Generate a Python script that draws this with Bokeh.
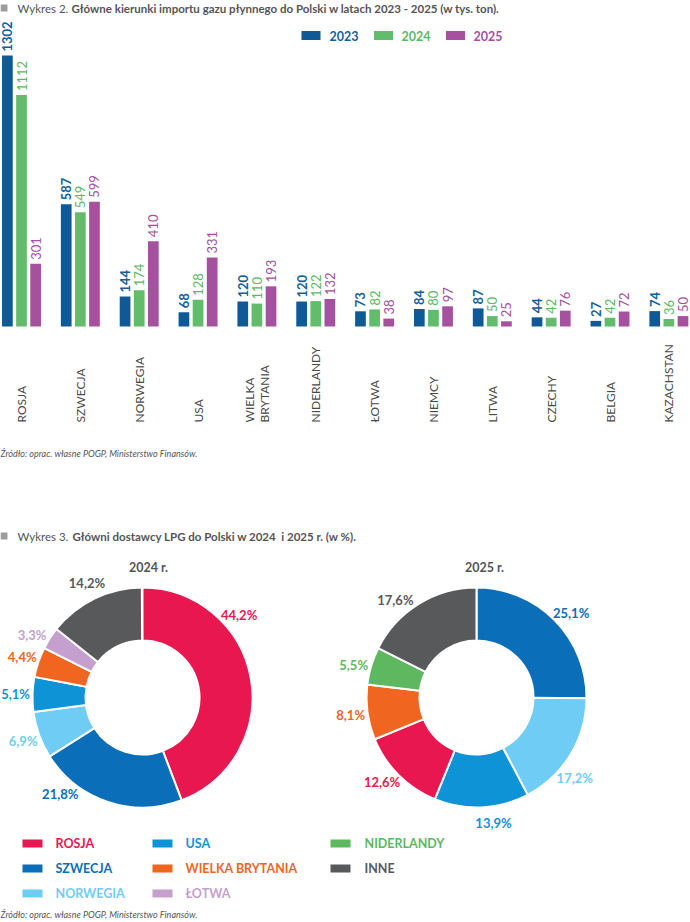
import numpy as np
from bokeh.plotting import figure
from bokeh.models import Range1d, ColumnDataSource
from bokeh.layouts import column
from bokeh.embed import file_html
from bokeh.resources import INLINE
from bokeh.core.properties import value

# ---------------- data ----------------
countries = ["ROSJA", "SZWECJA", "NORWEGIA", "USA", "WIELKA\nBRYTANIA", "NIDERLANDY",
             "ŁOTWA", "NIEMCY", "LITWA", "CZECHY", "BELGIA", "KAZACHSTAN"]
years = ["2023", "2024", "2025"]
v2023 = [1302, 587, 144, 68, 120, 120, 73, 84, 87, 44, 27, 74]
v2024 = [1112, 549, 174, 128, 110, 122, 82, 80, 50, 42, 42, 36]
v2025 = [301, 599, 410, 331, 193, 132, 38, 97, 25, 76, 72, 50]

pie_2024_labels = ["ROSJA", "SZWECJA", "NORWEGIA", "USA", "WIELKA BRYTANIA", "ŁOTWA", "INNE"]
pie_2024 = [44.2, 21.8, 6.9, 5.1, 4.4, 3.3, 14.2]
pie_2025_labels = ["SZWECJA", "NORWEGIA", "USA", "ROSJA", "WIELKA BRYTANIA", "NIDERLANDY", "INNE"]
pie_2025 = [25.1, 17.2, 13.9, 12.6, 8.1, 5.5, 17.6]
legend_cols = [["ROSJA", "SZWECJA", "NORWEGIA"],
               ["USA", "WIELKA BRYTANIA", "ŁOTWA"],
               ["NIDERLANDY", "INNE"]]

title1_a = "Wykres 2. "
title1_b = "Główne kierunki importu gazu płynnego do Polski w latach 2023 - 2025 (w tys. ton)."
title2_a = "Wykres 3. "
title2_b = "Główni dostawcy LPG do Polski w 2024\u00a0 i 2025 r. (w %)."
source_txt = "Źródło: oprac. własne POGP, Ministerstwo Finansów."
pie_titles = ["2024 r.", "2025 r."]

# ---------------- styles ----------------
FONT = value("Lato")
bar_colors = ["#0f5a96", "#63bc6b", "#a6519f"]
bar_text_colors = ["#15609a", "#5cb862", "#a4509e"]
bar_text_styles = ["bold", "normal", "normal"]
slice_colors = {"ROSJA": "#e9174f", "SZWECJA": "#0b6eb8", "NORWEGIA": "#6fcdf5",
                "USA": "#0f93d7", "WIELKA BRYTANIA": "#f0651f", "ŁOTWA": "#c59fce",
                "NIDERLANDY": "#5db860", "INNE": "#58595b"}
GRAY = "#555555"

W = 690
H1 = 470
H2 = 922 - H1

# bar chart geometry (pixels)
PX_GROUP = 58.85
FIRST_GROUP = 21.0
BASE = 326.0
PX_UNIT = 271.0 / 1302.0
x0 = -FIRST_GROUP / PX_GROUP
x1 = x0 + W / PX_GROUP
y0 = -(H1 - BASE) / PX_UNIT
y1 = y0 + H1 / PX_UNIT


def X1(sx):
    return x0 + sx / PX_GROUP


def Y1(sy):
    return y0 + (H1 - sy) / PX_UNIT


p1 = figure(width=W, height=H1, x_range=Range1d(x0, x1), y_range=Range1d(y0, y1),
            x_axis_type=None, y_axis_type=None, toolbar_location=None,
            output_backend="svg", min_border=0, outline_line_color=None)
p1.background_fill_color = "white"
p1.border_fill_color = "white"

idx = np.arange(len(countries))
offsets = [-0.24, 0.0, 0.24]
series = [v2023, v2024, v2025]
for vals, off, col, tcol, sty in zip(series, offsets, bar_colors, bar_text_colors, bar_text_styles):
    src = ColumnDataSource(dict(x=idx + off, top=vals, lab=[str(v) for v in vals]))
    p1.vbar(x="x", top="top", bottom=0, width=0.182, source=src,
            fill_color=col, line_color=None)
    p1.text(x="x", y="top", text="lab", source=src, angle=np.pi / 2,
            text_align="left", text_baseline="middle", y_offset=-4,
            text_font=FONT, text_font_size="13px", text_font_style=sty,
            text_color=tcol)

csrc = ColumnDataSource(dict(x=idx, y=[0] * len(idx), t=countries))
p1.text(x="x", y="y", text="t", source=csrc, angle=np.pi / 2, text_align="left",
        text_baseline="middle", y_offset=96, text_font=FONT, text_font_size="12px",
        text_color="#4a4a4a", text_line_height=1.0)

# title 1
p1.rect(x=[X1(3.5)], y=[Y1(7.5)], width=7, height=7, width_units="screen",
        height_units="screen", fill_color="#9d9d9d", line_color=None)
p1.text(x=[X1(17)], y=[Y1(7.5)], text=[title1_a], text_align="left", text_baseline="middle",
        text_font=FONT, text_font_size="11.5px", text_color=GRAY)
p1.text(x=[X1(71)], y=[Y1(7.5)], text=[title1_b], text_align="left", text_baseline="middle",
        text_font=FONT, text_font_size="11.5px", text_font_style="bold", text_color=GRAY)

# legend 1
leg_sq = [310.5, 383, 455]
leg_tx = [329, 401, 473]
p1.rect(x=[X1(s) for s in leg_sq], y=[Y1(35)] * 3, width=19, height=9,
        width_units="screen", height_units="screen", fill_color=bar_colors, line_color=None)
p1.text(x=[X1(s) for s in leg_tx], y=[Y1(35.5)] * 3, text=years, text_align="left",
        text_baseline="middle", text_font=FONT, text_font_size="12.5px",
        text_font_style="bold", text_color=bar_text_colors)

# source 1
p1.text(x=[X1(0)], y=[Y1(453)], text=[source_txt], text_align="left", text_baseline="middle",
        text_font=FONT, text_font_size="9px", text_font_style="italic", text_color=GRAY)

# ---------------- donuts ----------------
p2 = figure(width=W, height=H2, x_range=Range1d(0, W), y_range=Range1d(0, H2),
            x_axis_type=None, y_axis_type=None, toolbar_location=None,
            output_backend="svg", min_border=0, outline_line_color=None)
p2.background_fill_color = "white"
p2.border_fill_color = "white"


def Y2(sy):
    return 922 - sy


R_OUT, R_IN, R_LAB = 110, 57, 127


def donut(cx, cy, labels, shares, nudges):
    s = np.array(shares, dtype=float)
    cum = np.concatenate([[0], np.cumsum(s)])
    start = np.pi / 2 - 2 * np.pi * cum[:-1] / 100
    end = np.pi / 2 - 2 * np.pi * cum[1:] / 100
    cols = [slice_colors[l] for l in labels]
    src = ColumnDataSource(dict(x=[cx] * len(s), y=[cy] * len(s), s=start, e=end, c=cols))
    p2.annular_wedge(x="x", y="y", inner_radius=R_IN, outer_radius=R_OUT,
                     start_angle="s", end_angle="e", direction="clock", source=src,
                     fill_color="c", line_color="white", line_width=2)
    mid = (start + end) / 2 + np.radians(nudges)
    lsrc = ColumnDataSource(dict(
        x=cx + R_LAB * np.cos(mid), y=cy + R_LAB * np.sin(mid),
        t=[f"{v:.1f}%".replace(".", ",") for v in shares], c=cols))
    p2.text(x="x", y="y", text="t", source=lsrc, text_align="center",
            text_baseline="middle", text_font=FONT, text_font_size="13px",
            text_font_style="bold", text_color="c")


donut(142, Y2(697), pie_2024_labels, pie_2024, [30, -22, 0, 0, 0, 3, 0])
donut(476, Y2(697), pie_2025_labels, pie_2025, [-3, -8, 5, -3, 0, 2, 8])

p2.text(x=[148, 484], y=[Y2(567)] * 2, text=pie_titles, text_align="center",
        text_baseline="middle", text_font=FONT, text_font_size="12.5px",
        text_font_style="bold", text_color=GRAY)

# title 2
p2.rect(x=[3.5], y=[Y2(535.5)], width=7, height=7, width_units="screen",
        height_units="screen", fill_color="#9d9d9d", line_color=None)
p2.text(x=[17], y=[Y2(536)], text=[title2_a], text_align="left", text_baseline="middle",
        text_font=FONT, text_font_size="11.5px", text_color=GRAY)
p2.text(x=[72], y=[Y2(536)], text=[title2_b], text_align="left", text_baseline="middle",
        text_font=FONT, text_font_size="11.5px", text_font_style="bold", text_color=GRAY)

# legend 2
col_sq = [32, 162, 340]
col_tx = [55, 185, 364]
row_y = [843, 868, 893]
lx, ly, lsq, lt, lc = [], [], [], [], []
for ci, names in enumerate(legend_cols):
    for ri, n in enumerate(names):
        lsq.append(col_sq[ci]); lx.append(col_tx[ci]); ly.append(Y2(row_y[ri]))
        lt.append(n); lc.append(slice_colors[n])
p2.rect(x=lsq, y=ly, width=20, height=8, width_units="screen", height_units="screen",
        fill_color=lc, line_color=None)
p2.text(x=lx, y=[v + 0.5 for v in ly], text=lt, text_align="left", text_baseline="middle",
        text_font=FONT, text_font_size="12.5px", text_font_style="bold", text_color=lc)

p2.text(x=[0], y=[Y2(914)], text=[source_txt], text_align="left", text_baseline="middle",
        text_font=FONT, text_font_size="9px", text_font_style="italic", text_color=GRAY)

layout = column(p1, p2, spacing=0)
html = file_html(layout, INLINE)
html = html.replace("<head>", "<head><style>html,body{margin:0;padding:0;overflow:hidden;}</style>", 1)
open("out.html", "w").write(html)
